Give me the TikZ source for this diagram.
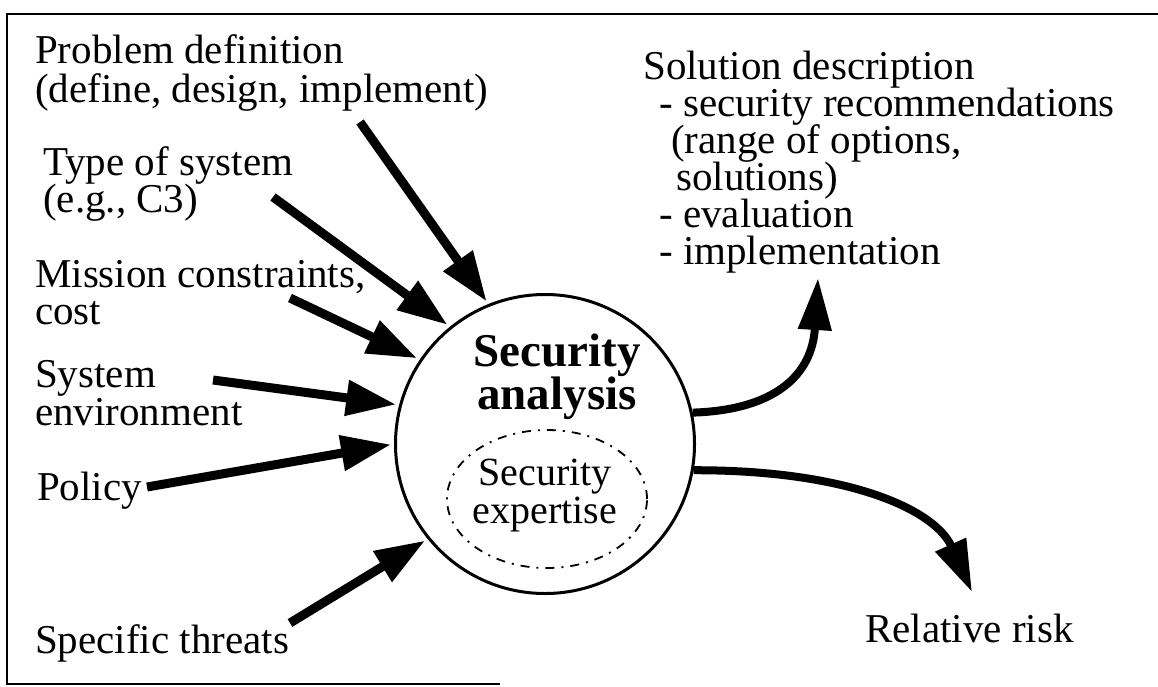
\documentclass[tikz,border=0pt]{standalone}
\usepackage{fontspec}
\setmainfont{Liberation Serif}
\usetikzlibrary{arrows.meta,shapes.geometric}
\newcommand\mlines[2]{\vtop{\baselineskip=#1pt\lineskiplimit=-100pt\halign{##\hfil\cr#2\crcr}}}
\newcommand\clines[2]{\vtop{\baselineskip=#1pt\lineskiplimit=-100pt\halign{\hfil##\hfil\cr#2\crcr}}}
\begin{document}
\begin{tikzpicture}[x=1pt,y=-1pt,
  lbl/.style={anchor=base west, inner sep=0pt, font=\fontsize{41}{38}\selectfont},
  inarrow/.style={line width=9pt, line cap=butt, -{Triangle[length=50pt,width=34pt]}, shorten >=3pt},
  outarrow/.style={line width=8pt, line cap=butt, -{Triangle[length=52pt,width=32pt]}}]
\useasboundingbox (0,0) rectangle (1158,686);
% frame
\draw[line width=2pt] (1170,14) -- (7,14) -- (7,684) -- (500,684);

% left labels
\node[lbl] (pd) at (35,63) {\mlines{39}{Problem definition\cr(define, design, implement)}};
\node[lbl] (ts) at (43,175) {\mlines{37}{Type of system\cr(e.g., C3)}};
\node[lbl] (mc) at (35,287) {\mlines{37}{Mission constraints,\cr cost}};
\node[lbl] (se) at (35,387) {\mlines{38}{System\cr environment}};
\node[lbl] (po) at (37,500) {Policy};
\node[lbl] (th) at (35,653) {Specific threats};

% right labels
\node[lbl] (sd) at (643,79) {\mlines{37}{Solution description\cr
  \hspace{16pt}- security recommendations\cr
  \hspace{28pt}(range of options,\cr
  \hspace{33pt}solutions)\cr
  \hspace{16pt}- evaluation\cr
  \hspace{16pt}- implementation}};
\node[lbl] (rr) at (865,642) {Relative risk};

% central circle
\node[circle, draw, line width=3pt, minimum size=299pt, inner sep=0pt] (sa) at (545,444) {};
\node[anchor=base, inner sep=0pt, font=\fontsize{47}{43}\selectfont\bfseries] (sat) at (557,366) {\clines{43}{Security\cr analysis}};
\node[ellipse, draw, line width=1.8pt, dash pattern=on 9pt off 7pt on 2pt off 7pt,
      minimum width=200pt, minimum height=138pt, inner sep=0pt] (ex) at (547,499) {};
\node[anchor=base, inner sep=0pt, font=\fontsize{40}{38}\selectfont] (ext) at (545,485) {\clines{38}{Security\cr expertise}};

% input arrows
\coordinate (a1) at (360,122);
\coordinate (a2) at (273,197);
\coordinate (a3) at (290,298);
\coordinate (a4) at (213,380);
\coordinate (a5) at (147,487);
\coordinate (a6) at (290,623);
\draw[inarrow] (a1) -- (sa.112);
\draw[inarrow] (a2) -- (sa.129);
\draw[inarrow] (a3) -- (sa.146);
\draw[inarrow] (a4) -- (sa.165.5);
\draw[inarrow] (a5) -- (sa.180.5);
\draw[inarrow] (a6) -- (sa.219);

% output arrows
\coordinate (o1) at (818,278);
\coordinate (o2) at (972,592);
\draw[outarrow] (sa.12) .. controls (775,410) and (812,375) .. (o1);
\draw[outarrow] (sa.-10) .. controls (850,470) and (935,510) .. (o2);
\end{tikzpicture}
\end{document}
